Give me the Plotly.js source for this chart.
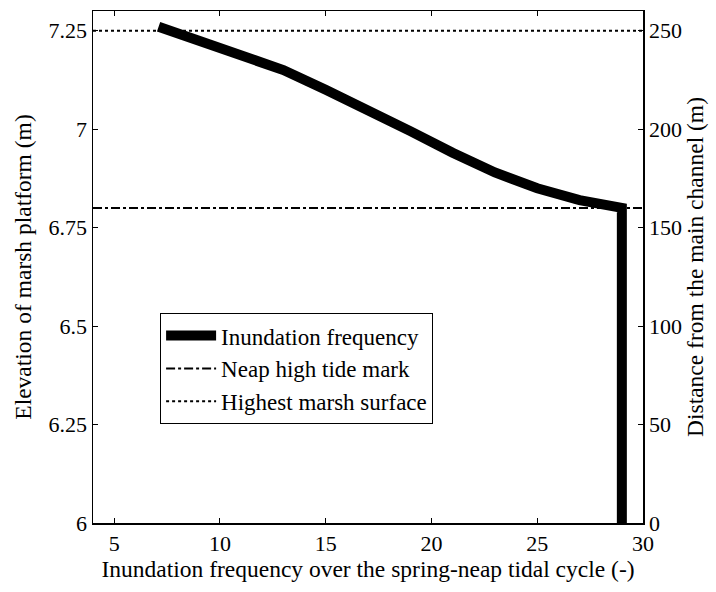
<!DOCTYPE html>
<html>
<head>
<meta charset="utf-8">
<script src="https://cdn.plot.ly/plotly-3.0.1.min.js"></script>
<style>html,body{margin:0;padding:0;background:#fff;}#chart{width:716px;height:592px;}</style>
</head>
<body>
<div id="chart"></div>
<script>
// Inundation frequency curve (x: frequency, y: elevation)
var freqX = [7.1, 9, 11, 13, 15, 17, 19, 21, 23, 25, 27, 29, 29];
var elevY = [7.26, 7.225, 7.19, 7.15, 7.10, 7.05, 6.995, 6.94, 6.89, 6.85, 6.82, 6.80, 6.0];
var neapLevel = 6.8;
var highestLevel = 7.25;
var lineXSpan = [4, 30];
var leftTicks = [6, 6.25, 6.5, 6.75, 7, 7.25];
var leftTickText = ['6', '6.25', '6.5', '6.75', '7', '7.25'];
var rightTicks = [0, 50, 100, 150, 200, 250];
var xTicks = [5, 10, 15, 20, 25, 30];

var FAM = 'Liberation Serif, Times New Roman, serif';
function f(s) { return {family: FAM, size: s, color: '#000'}; }

var traces = [
  {x: freqX, y: elevY, mode: 'lines', name: 'Inundation frequency',
   line: {color: '#000', width: 10, shape: 'linear'}},
  {x: lineXSpan, y: [neapLevel, neapLevel], mode: 'lines', name: 'Neap high tide mark',
   line: {color: '#000', width: 2, dash: 'dashdot'}},
  {x: lineXSpan, y: [highestLevel, highestLevel], mode: 'lines', name: 'Highest marsh surface',
   line: {color: '#000', width: 2, dash: 'dot'}},
  {x: [lineXSpan[0]], y: [0], yaxis: 'y2', mode: 'markers', showlegend: false,
   marker: {opacity: 0}, hoverinfo: 'skip'}
];

var layout = {
  width: 716, height: 592,
  margin: {l: 93, r: 73, t: 11, b: 69},
  paper_bgcolor: '#fff', plot_bgcolor: '#fff',
  font: f(22),
  showlegend: true,
  legend: {x: 0.122, y: 0.41, xanchor: 'left', yanchor: 'top',
    bordercolor: '#000', borderwidth: 1, bgcolor: '#fff',
    font: f(23), tracegroupgap: 0, itemwidth: 50},
  xaxis: {range: [4, 30], tickvals: xTicks, ticks: 'inside', ticklen: 5,
    tickcolor: '#000', showline: true, linecolor: '#000', linewidth: 1.5,
    mirror: 'ticks', showgrid: false, zeroline: false,
    tickfont: f(22),
    title: {text: 'Inundation frequency over the spring-neap tidal cycle (-)', font: f(23.5), standoff: 2}},
  yaxis: {range: [6, 7.3], tickvals: leftTicks, ticktext: leftTickText, ticks: 'inside', ticklen: 5,
    tickcolor: '#000', showline: true, linecolor: '#000', linewidth: 1.5,
    showgrid: false, zeroline: false,
    tickfont: f(22),
    title: {text: 'Elevation of marsh platform (m)', font: f(23.5), standoff: 10}},
  yaxis2: {overlaying: 'y', side: 'right', range: [0, 260], tickvals: rightTicks,
    ticks: 'inside', ticklen: 5, tickcolor: '#000', showline: true, linecolor: '#000', linewidth: 1.5,
    showgrid: false, zeroline: false,
    tickfont: f(22),
    title: {text: 'Distance from the main channel (m)', font: f(23.5), standoff: 4}}
};

Plotly.newPlot('chart', traces, layout, {displayModeBar: false, staticPlot: true});
</script>
</body>
</html>
